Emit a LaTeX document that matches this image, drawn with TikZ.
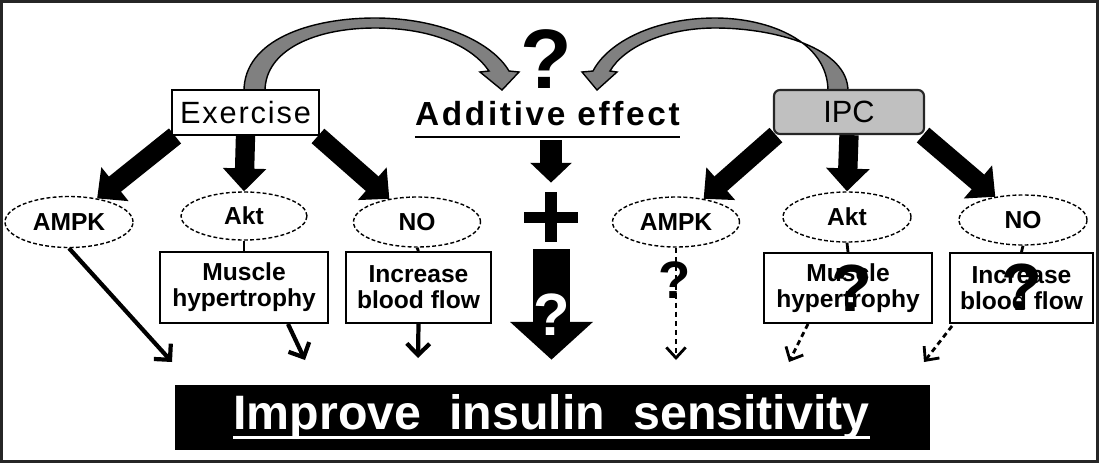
\documentclass[tikz,border=0pt]{standalone}
\usepackage{fontspec}
\setmainfont{Liberation Sans}
\newfontfamily\exfont[LetterSpace=6]{Liberation Sans}
\newfontfamily\additivefont[LetterSpace=8]{Liberation Sans}
\usetikzlibrary{arrows.meta,shapes.geometric,calc}
\definecolor{ipcgray}{HTML}{C0C0C0}
\definecolor{curvegray}{HTML}{808080}
\pgfdeclarelayer{back}
\pgfdeclarelayer{bg}
\pgfsetlayers{back,bg,main}
\begin{document}
\begin{tikzpicture}[x=0.02cm,y=-0.02cm,
  ell/.style={ellipse,draw,fill=white,line width=0.8pt,dash pattern=on 2.2pt off 1.3pt,inner sep=0pt,font=\fontsize{14}{16}\selectfont\bfseries},
  rbox/.style={rectangle,draw,fill=white,line width=1.1pt,inner sep=0pt,align=center,font=\fontsize{14}{14.8}\selectfont\bfseries},
  thickarrow/.style={line width=11pt,-{Triangle[width=24pt,length=13pt]}},
  smallarrow/.style={line width=12.5pt,-{Triangle[width=23pt,length=11.3pt]}},
  bigarrow/.style={line width=21pt,-{Triangle[width=46pt,length=21.5pt]}},
  thinarrow/.style={line width=2.4pt,-{Straight Barb[length=6.5pt,width=13pt]}},
  dasharrow/.style={line width=1.6pt,dash pattern=on 3pt off 2.2pt,-{Straight Barb[length=6pt,width=11pt]}},
  link/.style={line width=1.6pt},
  qmark/.style={inner sep=0pt},
  curvearrow/.style={fill=curvegray,draw=black,line width=0.8pt}
]
\useasboundingbox (0,0) rectangle (1100,464);
\begin{pgfonlayer}{back}
\fill[white] (0,0) rectangle (1100,464);
\draw[black!85,line width=1.7pt] (1.5,1.5) rectangle (1097.5,461.5);
\end{pgfonlayer}

% top nodes
\node[rectangle,draw,fill=white,line width=1.1pt,minimum width=147*0.02cm,minimum height=45*0.02cm,inner sep=0pt,font=\exfont\fontsize{17.5}{20}\selectfont] (ex) at (245.5,112.5) {Exercise};
\node[rectangle,rounded corners=0.12cm,draw=black!85,fill=ipcgray,line width=1.2pt,minimum width=150*0.02cm,minimum height=44*0.02cm,inner sep=0pt,font=\fontsize{17.5}{20}\selectfont] (ipc) at (849,112) {IPC};
\node[inner sep=0pt,anchor=base,font=\additivefont\bfseries\fontsize{19}{22}\selectfont] (add) at (547.5,125) {Additive effect};
\draw[line width=1.2pt] ($(add.base west)+(0,12)$) -- ($(add.base east)+(0,12)$);
\node[qmark,font=\bfseries\fontsize{48}{50}\selectfont] (q0) at (546.5,59.5) {?};

% ellipses
\node[ell,minimum width=128*0.02cm,minimum height=51*0.02cm] (ampkA) at (69,222) {AMPK};
\node[ell,minimum width=126*0.02cm,minimum height=48*0.02cm] (aktA) at (244,216) {Akt};
\node[ell,minimum width=127*0.02cm,minimum height=50*0.02cm] (noA) at (417,222) {NO};
\node[ell,minimum width=127*0.02cm,minimum height=50*0.02cm] (ampkB) at (676,222) {AMPK};
\node[ell,minimum width=128*0.02cm,minimum height=50*0.02cm] (aktB) at (847,217) {Akt};
\node[ell,minimum width=128*0.02cm,minimum height=50*0.02cm] (noB) at (1023,220) {NO};

% boxes
\node[rbox,minimum width=168*0.02cm,minimum height=71*0.02cm] (musA) at (244,287.5) {Muscle\\hypertrophy};
\node[rbox,minimum width=145*0.02cm,minimum height=71*0.02cm] (incA) at (418.5,287.5) {Increase\\blood flow};
\node[rbox,minimum width=168*0.02cm,minimum height=70*0.02cm] (musB) at (848,288) {Muscle\\hypertrophy};
\node[rbox,minimum width=143*0.02cm,minimum height=70*0.02cm] (incB) at (1021.5,288) {Increase\\blood flow};

% plus sign and bottom bar
\node[minimum width=54*0.02cm,minimum height=50*0.02cm,inner sep=0pt] (pl) at (551,217) {};
\fill ($(pl.west)+(0,-5.5)$) rectangle ($(pl.east)+(0,5.5)$);
\fill ($(pl.north)+(-6,0)$) rectangle ($(pl.south)+(6,0)$);
\node[fill=black,minimum width=755*0.02cm,minimum height=65*0.02cm,inner sep=0pt] (bar) at (552.5,417.5) {};
\node[text=white,inner sep=0pt,font=\bfseries\fontsize{27.5}{30}\selectfont] (ins) at (551.5,417) {Improve\hspace{16pt}insulin\hspace{16pt}sensitivity};
\draw[white,line width=2pt] ($(ins.base west)+(0,8)$) -- ($(ins.base east)+(0,8)$);

\begin{pgfonlayer}{bg}
% curved arrows
\filldraw[curvearrow]
 (244,91) .. controls (244,40) and (310,18) .. (375,18) .. controls (440,18) and (492,42) .. (509,71)
 -- (519,72) -- (502,90) -- (480,72) -- (489,71)
 .. controls (472,46) and (432,28) .. (375,28) .. controls (315,28) and (265,50) .. (265,91) -- cycle;
\filldraw[curvearrow]
 (828,91) .. controls (828,42) and (770,18) .. (715,18) .. controls (655,18) and (608,42) .. (593,71)
 -- (582,72) -- (597,90) -- (617,72) -- (610,71)
 .. controls (624,47) and (665,28) .. (715,28) .. controls (775,28) and (848,48) .. (848,91) -- cycle;
% thick arrows
\draw[thickarrow] ($(ex.south west)+(4,0)$) -- (ampkA.40);
\draw[thickarrow] (ex.south) -- (aktA.north);
\draw[thickarrow] ($(ex.south east)+(-2,0)$) -- (noA.140);
\draw[thickarrow] ($(ipc.south west)+(3,0)$) -- (ampkB.40);
\draw[thickarrow] (ipc.south) -- (aktB.north);
\draw[thickarrow] ($(ipc.south east)+(-2,0)$) -- (noB.140);
% links
\draw[link] (aktA.south) -- (musA.north);
\draw[link] (noA.south) -- (incA.north);
\draw[link] (aktB.south) -- (musB.north);
\draw[link] (noB.south) -- (incB.north);
\end{pgfonlayer}

% center arrows
\draw[smallarrow] ($(add.base)+(3.5,15)$) -- ($(pl.north)+(0,-9)$);
\draw[bigarrow] ($(pl.south)+(0.5,7)$) -- ($(bar.north)+(-1,-25)$);
\node[qmark,text=white,font=\bfseries\fontsize{34}{36}\selectfont] (qc) at (552,315) {?};

% lower arrows
\coordinate (eA1) at (172,362);
\coordinate (eA2) at (305,360);
\coordinate (eA3) at (418,358);
\coordinate (eB1) at (676,360);
\coordinate (eB2) at (789,362);
\coordinate (eB3) at (924,362);
\draw[thinarrow] (ampkA.south) -- (eA1);
\draw[thinarrow] ($(musA.south)+(44,0)$) -- (eA2);
\draw[thinarrow] (incA.south) -- (eA3);
\draw[dasharrow] (ampkB.south) -- (eB1);
\draw[dasharrow] ($(musB.south)+(-40,0)$) -- (eB2);
\draw[dasharrow] ($(incB.south west)+(3,2)$) -- (eB3);

% question marks
\node[qmark,font=\bfseries\fontsize{30}{32}\selectfont] (qB1) at (675,280) {?};
\node[qmark,font=\bfseries\fontsize{38}{40}\selectfont] (qB2) at (852,288) {?};
\node[qmark,font=\bfseries\fontsize{38}{40}\selectfont] (qB3) at (1022,287) {?};
\end{tikzpicture}
\end{document}
